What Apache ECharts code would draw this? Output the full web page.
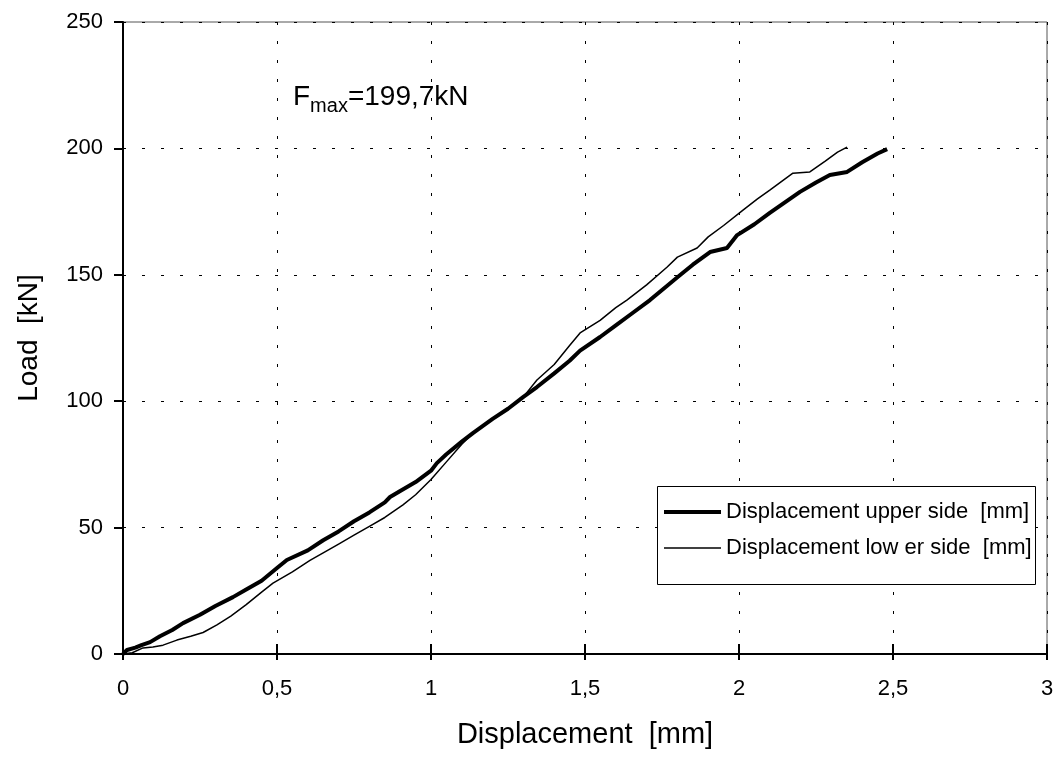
<!DOCTYPE html>
<html>
<head>
<meta charset="utf-8">
<script src="https://cdn.jsdelivr.net/npm/echarts@6/dist/echarts.min.js"></script>
<style>
html,body{margin:0;padding:0;background:#fff;}
#c{width:1063px;height:764px;}
</style>
</head>
<body>
<div id="c"></div>
<script>
const seriesNames = ['Displacement upper side  [mm]', 'Displacement low er side  [mm]'];
const upperSide = [
[0,0],[0.013,1.6],[0.04,2.5],[0.06,3.5],[0.088,4.7],[0.12,7],[0.16,9.5],[0.195,12.2],[0.25,15.5],[0.3,19],[0.357,22.5],[0.4,25.5],[0.45,29],[0.5,34],[0.532,37.2],[0.6,41],[0.65,45],[0.7,48.5],[0.75,52.5],[0.8,56],[0.85,60],[0.867,62.1],[0.9,64.5],[0.95,68],[1.0,72.5],[1.019,75.5],[1.05,79],[1.1,84],[1.136,87.4],[1.2,93],[1.25,97],[1.3,101.7],[1.344,105.6],[1.4,111],[1.45,116],[1.484,120],[1.549,125.4],[1.6,130],[1.65,134.5],[1.711,140],[1.76,145],[1.8,149],[1.85,154],[1.906,159],[1.961,160.6],[1.994,165.7],[2.05,170],[2.1,174.5],[2.198,182.8],[2.25,186.5],[2.295,189.5],[2.351,190.7],[2.4,194.5],[2.45,198],[2.481,199.7]
];
const lowerSide = [
[0,0],[0.03,0.5],[0.065,2.4],[0.097,2.8],[0.13,3.5],[0.175,5.5],[0.22,7],[0.26,8.5],[0.305,11.5],[0.35,15],[0.4,19.5],[0.45,24.5],[0.487,28],[0.55,32.5],[0.607,37],[0.65,40],[0.7,43.5],[0.75,47],[0.8,50.5],[0.85,54],[0.909,59],[0.95,63],[1.0,69],[1.05,76],[1.1,83],[1.136,87.4],[1.2,93],[1.25,97],[1.3,101.7],[1.344,108.4],[1.4,114.5],[1.45,122],[1.484,127],[1.549,132],[1.6,137],[1.636,140],[1.7,146],[1.766,153],[1.8,157],[1.864,160.6],[1.9,165],[1.95,169.5],[2.013,175.6],[2.06,180],[2.1,183.5],[2.175,190.2],[2.23,190.7],[2.28,195],[2.32,198.5],[2.351,200.5]
];
const xTicks = [0, 0.5, 1, 1.5, 2, 2.5, 3];
const yTicks = [0, 50, 100, 150, 200, 250];
const xName = 'Displacement  [mm]';
const yName = 'Load  [kN]';

const FONT = '"Liberation Sans", Arial, sans-serif';
const chart = echarts.init(document.getElementById('c'), null, {renderer: 'canvas'});
const gridLine = {show: true, lineStyle: {color: '#000', type: [3, 16], width: 1}};
const xMin = xTicks[0], xMax = xTicks[xTicks.length - 1];
chart.setOption({
  animation: false,
  backgroundColor: '#fff',
  grid: {left: 123, right: 16, top: 22, bottom: 110, containLabel: false,
    show: true, borderColor: '#555', borderWidth: 1, backgroundColor: 'transparent'},
  xAxis: [{
    type: 'value', min: xMin, max: xMax, interval: 0.5,
    name: xName, nameLocation: 'middle', nameGap: 66,
    nameTextStyle: {fontFamily: FONT, fontSize: 29, color: '#000'},
    axisLine: {show: true, onZero: false, lineStyle: {color: '#000', width: 2}},
    axisTick: {show: true, length: 6, lineStyle: {color: '#000', width: 2}},
    axisLabel: {fontFamily: FONT, fontSize: 22, color: '#000', margin: 24,
      formatter: v => String(v).replace('.', ',')},
    splitLine: gridLine
  }, {
    type: 'value', min: xMin, max: xMax, interval: 0.5, position: 'bottom',
    axisLine: {show: false},
    axisTick: {show: true, inside: true, length: 10, lineStyle: {color: '#000', width: 2}},
    axisLabel: {show: false}, splitLine: {show: false}
  }],
  yAxis: {
    type: 'value', min: yTicks[0], max: yTicks[yTicks.length - 1], interval: 50,
    name: yName, nameLocation: 'middle', nameGap: 80,
    nameTextStyle: {fontFamily: FONT, fontSize: 28, color: '#000'},
    axisLine: {show: true, onZero: false, lineStyle: {color: '#000', width: 2}},
    axisTick: {show: true, length: 9, lineStyle: {color: '#000', width: 2}},
    axisLabel: {fontFamily: FONT, fontSize: 22, color: '#000', margin: 20},
    splitLine: gridLine
  },
  legend: [{
    left: 664, top: 500, padding: 0, icon: 'rect',
    itemWidth: 57, itemHeight: 4,
    textStyle: {fontFamily: FONT, fontSize: 22, color: '#000', lineHeight: 24},
    data: [seriesNames[0]], selectedMode: false
  }, {
    left: 664, top: 536, padding: 0, icon: 'rect',
    itemWidth: 57, itemHeight: 1.5,
    textStyle: {fontFamily: FONT, fontSize: 22, color: '#000', lineHeight: 24},
    data: [seriesNames[1]], selectedMode: false
  }],
  graphic: [{
    type: 'rect', z: 3,
    shape: {x: 657.5, y: 486.5, width: 378, height: 98},
    style: {fill: '#fff', stroke: '#000', lineWidth: 1}
  }, {
    type: 'text', left: 293, top: 83, z: 5,
    style: {
      text: '{f|F}{s|max}{f|=199,7kN}',
      rich: {
        f: {fontFamily: FONT, fontSize: 28, fill: '#000', lineHeight: 30, verticalAlign: 'bottom'},
        s: {fontFamily: FONT, fontSize: 20, fill: '#000', lineHeight: 30, verticalAlign: 'bottom', padding: [0, 0, -5, 0]}
      }
    }
  }],
  series: [
    {name: seriesNames[0], type: 'line', data: upperSide, showSymbol: false, symbol: 'none',
      lineStyle: {color: '#000', width: 4}, itemStyle: {color: '#000'}, z: 3},
    {name: seriesNames[1], type: 'line', data: lowerSide, showSymbol: false, symbol: 'none',
      lineStyle: {color: '#000', width: 1.5}, itemStyle: {color: '#000'}, z: 2}
  ]
});
</script>
</body>
</html>
